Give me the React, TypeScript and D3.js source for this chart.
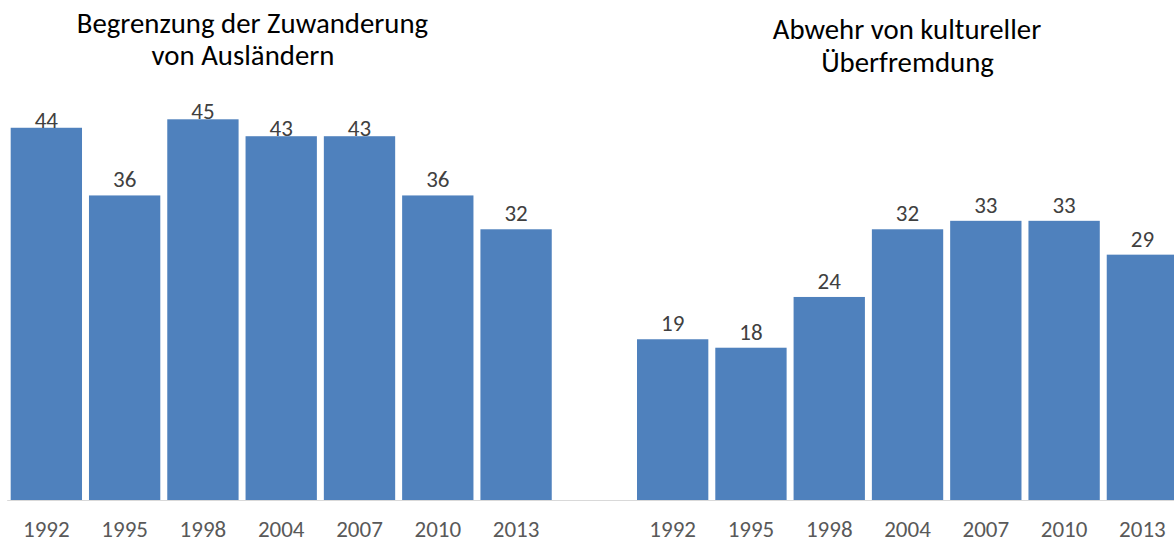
import React from "react";
import * as d3 from "d3";

const years = ["1992", "1995", "1998", "2004", "2007", "2010", "2013"];
const zuwanderung = [44, 36, 45, 43, 43, 36, 32];
const ueberfremdung = [19, 18, 24, 32, 33, 33, 29];
const titleLeft = ["Begrenzung der Zuwanderung", "von Ausländern"];
const titleRight = ["Abwehr von kultureller", "Überfremdung"];

const W = 1174;
const H = 542;
const FONT = "Carlito, Calibri, Lato, 'Open Sans', sans-serif";
const BAR = "#4F81BD";

type Item = { key: string; year: string; value: number };

const items: Item[] = [
  ...years.map((y, i) => ({ key: `a${i}`, year: y, value: zuwanderung[i] })),
  ...years.map((y, i) => ({ key: `b${i}`, year: y, value: ueberfremdung[i] })),
];
const slots = [
  ...years.map((_, i) => `a${i}`),
  "gap",
  ...years.map((_, i) => `b${i}`),
];

export default function App() {
  const x = d3.scaleBand<string>().domain(slots).range([7.2, 7.2 + 15 * 78.29]).paddingInner(0.089).paddingOuter(0.0445);
  const y = d3.scaleLinear().domain([0, 50]).range([500, 77]);
  const bw = x.bandwidth();

  const leftX = [252.5, 243];
  const rightX = [907, 907.5];

  return (
    <svg
      width={W}
      height={H}
      style={{ position: "absolute", left: 0, top: 0, display: "block", background: "#fff" }}
      fontFamily={FONT}
    >
      <rect x={0} y={0} width={W} height={H} fill="#fff" />
      {items.map((d) => {
        const x0 = x(d.key) as number;
        const top = y(d.value);
        return (
          <g key={d.key}>
            <rect x={x0} y={top} width={bw} height={y(0) - top} fill={BAR} />
          </g>
        );
      })}
      <line x1={x.range()[0]} x2={W} y1={500.5} y2={500.5} stroke="#D9D9D9" strokeWidth={1.2} />
      {items.map((d) => {
        const x0 = x(d.key) as number;
        const top = y(d.value);
        const ly = top > 150 ? top - 8 : top;
        return (
          <text key={"l" + d.key} x={x0 + bw / 2} y={ly} textAnchor="middle" fontSize={23} fill="#404040">
            {d.value}
          </text>
        );
      })}
      {items.map((d) => {
        const x0 = x(d.key) as number;
        return (
          <text key={"t" + d.key} x={x0 + bw / 2} y={536.5} textAnchor="middle" fontSize={23} fill="#595959">
            {d.year}
          </text>
        );
      })}
      {titleLeft.map((t, i) => (
        <text key={"tl" + i} x={leftX[i]} y={32.5 + i * 32.5} textAnchor="middle" fontSize={28.8} fill="#000">
          {t}
        </text>
      ))}
      {titleRight.map((t, i) => (
        <text key={"tr" + i} x={rightX[i]} y={38.5 + i * 33} textAnchor="middle" fontSize={28.8} fill="#000">
          {t}
        </text>
      ))}
    </svg>
  );
}
